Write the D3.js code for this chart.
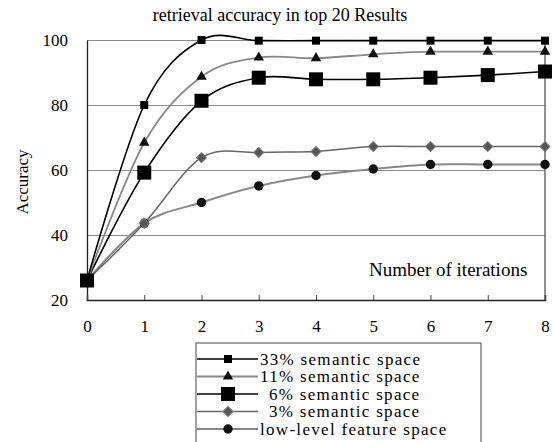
<!DOCTYPE html>
<html lang="en">
<head>
<meta charset="UTF-8">
<title>retrieval accuracy in top 20 Results</title>
<script src="https://d3js.org/d3.v7.min.js"></script>
<style>
    body { margin: 0; padding: 0; background: #fff; }
    svg { display: block; font-family: "Liberation Serif", "Times New Roman", serif; }
    .legend-text { font-size: 17px; letter-spacing: 1.3px; }
</style>
</head>
<body>
<svg id="chart" width="553" height="442"></svg>
<script>
// data
const iterations = [0, 1, 2, 3, 4, 5, 6, 7, 8];
const yTicks = [20, 40, 60, 80, 100];
const seriesNames = ["33% semantic space", "11% semantic space", "6% semantic space", "3% semantic space", "low-level feature space"];
const acc33 = [26, 80, 100, 99.8, 99.8, 99.8, 99.8, 99.8, 99.8];
const acc11 = [26, 68.4, 88.7, 94.6, 94.4, 95.6, 96.4, 96.4, 96.4];
const acc6 = [26, 59.2, 81.3, 88.4, 87.9, 87.9, 88.4, 89.2, 90.3];
const acc3 = [26, 43.6, 63.8, 65.4, 65.7, 67.2, 67.2, 67.2, 67.2];
const accLow = [26, 43.6, 50, 55.1, 58.3, 60.3, 61.7, 61.7, 61.7];

const svg = d3.select('#chart');
const plot = { left: 87, right: 545, top: 40, bottom: 300 };

const x = d3.scaleLinear().domain([0, 8]).range([plot.left, plot.right]);
const y = d3.scaleLinear().domain([20, 100]).range([plot.bottom, plot.top]);

// styles per series
const styles = [
    { values: acc33, stroke: '#000', width: 1.6, symbol: d3.symbolSquare, size: 64, fill: '#000', rot: 0 },
    { values: acc11, stroke: '#888', width: 1.8, symbol: d3.symbolTriangle, size: 48, fill: '#111', rot: 0 },
    { values: acc6, stroke: '#000', width: 1.6, symbol: d3.symbolSquare, size: 196, fill: '#000', rot: 0 },
    { values: acc3, stroke: '#666', width: 1.5, symbol: d3.symbolSquare, size: 50, fill: '#555', rot: 45 },
    { values: accLow, stroke: '#888', width: 2, symbol: d3.symbolCircle, size: 70, fill: '#111', rot: 0 }
];

// title
svg.append('text')
    .attr('x', 280).attr('y', 21)
    .attr('text-anchor', 'middle')
    .style('font-size', '18px')
    .text('retrieval accuracy in top 20 Results');

// gridlines
svg.append('g')
    .attr('transform', `translate(${plot.left},0)`)
    .call(d3.axisLeft(y).tickValues(yTicks.slice(1)).tickSize(-(plot.right - plot.left)).tickFormat(''))
    .call(g => g.select('.domain').remove())
    .call(g => g.selectAll('line').attr('stroke', '#8a8a8a').attr('stroke-width', 1.2));

// right border
svg.append('line')
    .attr('x1', plot.right).attr('x2', plot.right)
    .attr('y1', plot.top).attr('y2', plot.bottom)
    .attr('stroke', '#555').attr('stroke-width', 1.3);

// y axis
svg.append('g')
    .attr('transform', `translate(${plot.left},0)`)
    .call(d3.axisLeft(y).tickValues(yTicks).tickSize(0).tickPadding(19))
    .call(g => g.select('.domain').attr('stroke', '#222').attr('stroke-width', 1.3))
    .call(g => g.selectAll('.tick text')
        .style('font-family', '"Liberation Serif", "Times New Roman", serif')
        .style('font-size', '17px'));

// x axis
svg.append('g')
    .attr('transform', `translate(0,${plot.bottom})`)
    .call(d3.axisBottom(x).tickValues(iterations).tickSize(-5).tickPadding(20).tickFormat(d3.format('d')))
    .call(g => g.select('.domain').attr('stroke', '#222').attr('stroke-width', 1.5))
    .call(g => g.selectAll('.tick line').attr('stroke', '#444'))
    .call(g => g.selectAll('.tick text')
        .style('font-family', '"Liberation Serif", "Times New Roman", serif')
        .style('font-size', '17px'));

// axis titles
svg.append('text')
    .attr('transform', 'translate(28,182) rotate(-90)')
    .attr('text-anchor', 'middle')
    .style('font-size', '17px')
    .text('Accuracy');

svg.append('text')
    .attr('x', 369).attr('y', 276)
    .style('font-size', '19px')
    .text('Number of iterations');

// lines
const line = d3.line()
    .x((d, i) => x(iterations[i]))
    .y(d => y(d))
    .curve(d3.curveCardinal.tension(0));

const drawOrder = [4, 3, 2, 1, 0];
drawOrder.forEach(k => {
    const s = styles[k];
    svg.append('path')
        .datum(s.values)
        .attr('fill', 'none')
        .attr('stroke', s.stroke)
        .attr('stroke-width', s.width)
        .attr('d', line);
});

drawOrder.forEach(k => {
    const s = styles[k];
    svg.append('g').selectAll('path')
        .data(s.values)
        .join('path')
        .attr('transform', (d, i) => `translate(${x(iterations[i])},${y(d)}) rotate(${s.rot})`)
        .attr('d', d3.symbol().type(s.symbol).size(s.size))
        .attr('fill', s.fill)
        .attr('stroke', s.rot ? '#777' : 'none')
        .attr('stroke-width', 1);
});

// legend
const legend = svg.append('g');
legend.append('rect')
    .attr('x', 196).attr('y', 343)
    .attr('width', 285).attr('height', 120)
    .attr('fill', '#fff')
    .attr('stroke', '#666').attr('stroke-width', 1.2);

const rowY = d3.scalePoint().domain(d3.range(seriesNames.length)).range([359, 429]);

seriesNames.forEach((name, k) => {
    const s = styles[k];
    const cy = rowY(k);
    legend.append('line')
        .attr('x1', 197).attr('x2', 258)
        .attr('y1', cy).attr('y2', cy)
        .attr('stroke', s.stroke).attr('stroke-width', s.width);
    legend.append('path')
        .attr('transform', `translate(228,${cy}) rotate(${s.rot})`)
        .attr('d', d3.symbol().type(s.symbol).size(s.size))
        .attr('fill', s.fill)
        .attr('stroke', s.rot ? '#777' : 'none');
    legend.append('text')
        .attr('class', 'legend-text')
        .attr('x', /^\d%/.test(name) ? 269 : 260)
        .attr('y', cy)
        .attr('dy', '0.35em')
        .text(name);
});
</script>
</body>
</html>
